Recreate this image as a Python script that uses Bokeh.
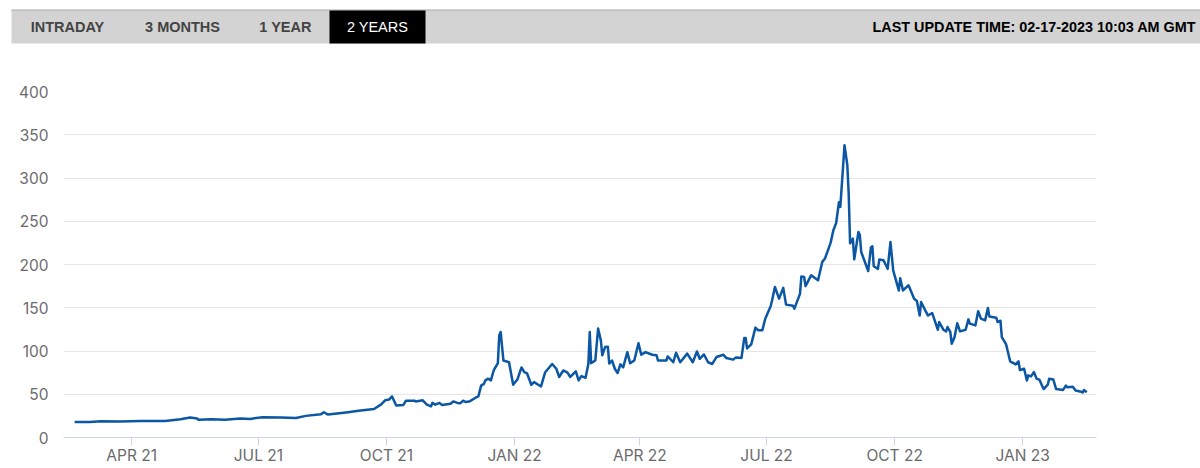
import pandas as pd
from bokeh.core.properties import value
from bokeh.embed import file_html
from bokeh.layouts import column
from bokeh.models import FixedTicker, Range1d
from bokeh.plotting import figure
from bokeh.resources import INLINE

# index values, days counted from start_date
start_date = "2021-02-19"
days = [0, 11, 19, 33, 47, 65, 76, 83, 88, 89, 98, 108, 119, 126, 135, 148, 159, 166, 177, 179,
        182, 195, 204, 215, 220, 223, 226, 228, 231, 236, 238, 244, 245, 250, 253, 256, 257, 259,
        262, 264, 270, 272, 275, 277, 279, 281, 284, 288, 290, 292, 294, 295, 297, 299, 301, 304,
        305, 306, 308, 312, 315, 318, 321, 323, 325, 328, 330, 335, 338, 343, 346, 348, 351, 354,
        356, 360, 362, 364, 367, 369, 370, 371, 374, 376, 378, 379, 381, 383, 384, 386, 388, 390,
        392, 394, 397, 399, 402, 405, 407, 410, 415, 418, 419, 425, 426, 430, 432, 435, 440, 444,
        447, 449, 452, 455, 458, 461, 466, 468, 473, 475, 479, 481, 482, 483, 486, 489, 491, 494,
        496, 500, 501, 503, 506, 509, 511, 516, 517, 521, 522, 524, 525, 529, 534, 537, 539, 543,
        545, 547, 549, 550, 553, 555, 556, 557, 559, 560, 563, 564, 565, 570, 572, 573, 574, 577,
        578, 581, 584, 586, 588, 592, 593, 595, 599, 603, 605, 607, 608, 611, 613, 616, 620, 621,
        624, 626, 627, 629, 630, 632, 634, 636, 640, 642, 643, 647, 649, 651, 654, 656, 657, 662,
        663, 665, 666, 669, 672, 676, 678, 679, 682, 684, 685, 687, 689, 691, 693, 696, 699, 700,
        703, 705, 710, 712, 713, 717, 719, 723, 724, 725, 727]
index_values = [18, 17.8, 18.8, 18.6, 19, 19.2, 21, 23, 22, 20.5, 21, 20.5, 22, 21.5, 23.5, 23, 22.5, 25, 27, 29.2,
                26.5, 29, 31, 33, 38, 43, 44, 47.5, 37, 37.5, 42.5, 42.5, 41.7, 43, 38, 36, 40, 38,
                40, 37.5, 39, 41.7, 40, 39.5, 42.5, 41, 42, 46, 47.5, 60, 62, 66, 68, 66, 77.5, 86,
                118, 122, 89, 87, 61, 67, 81, 75.5, 74, 61, 64, 59, 75.5, 85, 79.5, 70, 77.5, 75,
                70, 76.5, 66, 71, 69, 85, 122, 86, 89, 126, 112, 95, 104.5, 105, 85.5, 89, 79.5, 74.5,
                84.5, 81, 98.7, 86, 89, 109, 95.7, 98.7, 95.7, 95, 89, 89, 93.7, 87, 98, 87, 97, 87,
                99.5, 91, 96, 87, 85, 93, 95.7, 92, 90, 92.6, 92, 115, 115, 103, 107.6, 127, 124, 124,
                137, 152, 158.6, 174, 160.5, 173, 153.6, 152.4, 149, 166, 186, 185.6, 175, 187.5, 181.7, 203, 207, 225,
                239.6, 248, 272, 266.7, 338, 315, 282, 224.5, 230, 206, 237.6, 234, 214.5, 192.5, 220, 221, 198, 195,
                205.7, 205, 195, 226, 193, 170, 184, 170, 176, 160.5, 157.8, 141, 156.6, 147, 141, 143.9, 124.6, 133.5,
                124.6, 122.7, 127.7, 122, 108.4, 116, 132, 122.7, 124.6, 136.6, 131.6, 129.6, 146, 137.4, 135.4, 149.7, 140, 138.5,
                133.5, 135, 116, 108, 88, 84.5, 88, 78, 79.5, 66, 71.8, 70.6, 75.6, 68, 66.8, 56, 61, 68,
                67, 56, 55, 60, 58, 58.6, 54.4, 53, 52, 54.8, 52.4]

tick_dates = ["2021-04-01", "2021-07-01", "2021-10-01", "2022-01-01",
              "2022-04-01", "2022-07-01", "2022-10-01", "2023-01-01"]
tick_labels = ["APR 21", "JUL 21", "OCT 21", "JAN 22", "APR 22", "JUL 22", "OCT 22", "JAN 23"]
y_ticks = [0, 50, 100, 150, 200, 250, 300, 350, 400]

tab_labels = ["INTRADAY", "3 MONTHS", "1 YEAR", "2 YEARS"]
update_text = "LAST UPDATE TIME: 02-17-2023 10:03 AM GMT"

dates = pd.Timestamp(start_date) + pd.to_timedelta(days, unit="D")
tick_ms = [int(pd.Timestamp(d).timestamp() * 1000) for d in tick_dates]

# tab strip on top, its ranges are page pixels
tabs = figure(width=1200, height=44, x_range=(0, 1200), y_range=(44, 0),
              toolbar_location=None, tools="", output_backend="svg", min_border=0)
tabs.frame_align = False
tabs.axis.visible = False
tabs.grid.visible = False
tabs.outline_line_color = None
tabs.quad(left=[11], right=[1200], top=[9.5], bottom=[43], fill_color="#d3d3d3", line_color=None)
tabs.segment(x0=[11], x1=[1200], y0=[9.5], y1=[9.5], line_color="#aaaaaa", line_width=1)
tabs.quad(left=[329], right=[425], top=[10], bottom=[43], fill_color="#000000", line_color=None)
tabs.text(x=[67, 182, 285], y=[26, 26, 26], text=tab_labels[:3], text_font=value("Liberation Sans"),
          text_font_style="bold", text_font_size="14.5px", text_color="#444444",
          text_align="center", text_baseline="middle")
tabs.text(x=[377], y=[26], text=tab_labels[3:], text_font=value("Liberation Sans"),
          text_font_size="14.5px", text_color="#ffffff",
          text_align="center", text_baseline="middle")
tabs.text(x=[872], y=[26], text=[update_text], text_font=value("Liberation Sans"),
          text_font_style="bold", text_font_size="14.4px", text_color="#000000",
          text_align="left", text_baseline="middle")

p = figure(width=1200, height=424, x_axis_type="datetime",
           x_range=Range1d(pd.Timestamp("2021-02-11"), pd.Timestamp("2023-02-23")),
           y_range=Range1d(0, 400), toolbar_location=None, tools="", output_backend="svg",
           min_border_left=63, min_border_right=104, min_border_top=47, min_border_bottom=31)
p.frame_align = False
p.outline_line_color = None
p.line(dates, index_values, line_color="#0b57a4", line_width=2.5, line_join="round")

p.xgrid.visible = False
p.ygrid.grid_line_color = "#e6e6e6"
p.ygrid.ticker = FixedTicker(ticks=y_ticks)

p.yaxis.ticker = FixedTicker(ticks=y_ticks)
p.yaxis.axis_line_color = None
p.yaxis.major_tick_line_color = None
p.yaxis.major_tick_out = 0
p.yaxis.minor_tick_line_color = None
p.yaxis.major_label_standoff = 15
p.yaxis.major_label_text_font = "Inter"
p.yaxis.major_label_text_font_size = "15.5px"
p.yaxis.major_label_text_color = "#6b6b6b"

p.xaxis.ticker = FixedTicker(ticks=tick_ms)
p.xaxis.major_label_overrides = dict(zip(tick_ms, tick_labels))
p.xaxis.axis_line_color = "#ccd6eb"
p.xaxis.major_tick_line_color = "#ccd6eb"
p.xaxis.major_tick_in = 0
p.xaxis.major_tick_out = 8
p.xaxis.minor_tick_line_color = None
p.xaxis.major_label_standoff = 0
p.xaxis.major_label_text_font = "Inter"
p.xaxis.major_label_text_font_size = "15.5px"
p.xaxis.major_label_text_color = "#6b6b6b"

layout = column(tabs, p)
open("out.html", "w").write(file_html(layout, INLINE))
